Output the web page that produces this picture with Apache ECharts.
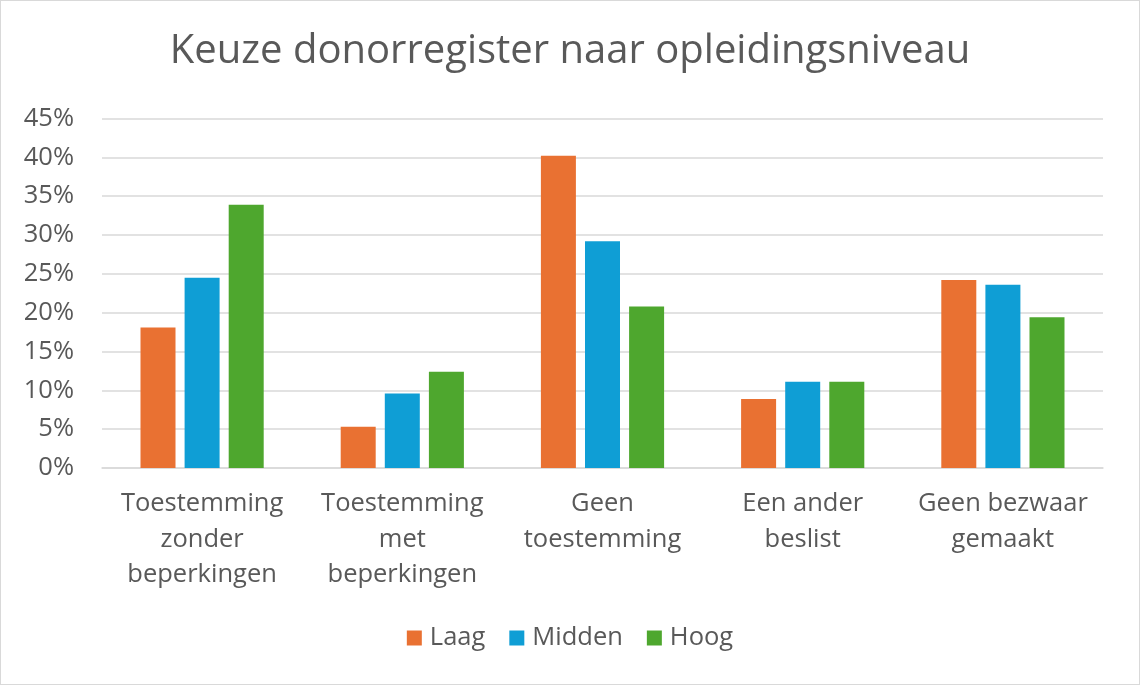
<!DOCTYPE html>
<html>
<head>
<meta charset="utf-8">
<script src="https://cdn.jsdelivr.net/npm/echarts@6/dist/echarts.min.js"></script>
<style>
html,body{margin:0;padding:0;background:#fff;}
#chart{width:1140px;height:685px;box-sizing:border-box;border:1px solid #d9d9d9;}
</style>
</head>
<body>
<div id="chart"></div>
<script>
const categories = ["Toestemming\nzonder\nbeperkingen", "Toestemming\nmet\nbeperkingen", "Geen\ntoestemming", "Een ander\nbeslist", "Geen bezwaar\ngemaakt"];
const seriesNames = ["Laag", "Midden", "Hoog"];
const laag = [18.1, 5.3, 40.2, 8.9, 24.2];
const midden = [24.5, 9.6, 29.2, 11.1, 23.6];
const hoog = [33.9, 12.4, 20.8, 11.1, 19.4];
const colors = ["#E97132", "#0F9ED5", "#4EA72E"];

const FONT = "Open Sans";
const TXT = "#595959";
const chart = echarts.init(document.getElementById('chart'), null, {renderer: 'canvas'});
const data = [laag, midden, hoog];
chart.setOption({
  animation: false,
  color: colors,
  title: {
    text: "Keuze donorregister naar opleidingsniveau",
    left: 'center', top: 26,
    textStyle: {fontFamily: FONT, fontSize: 40, fontWeight: 'normal', color: TXT}
  },
  legend: {
    bottom: 28, left: 'center',
    itemWidth: 15, itemHeight: 15, itemGap: 24,
    icon: 'rect',
    textStyle: {fontFamily: FONT, fontSize: 25.5, color: TXT, padding: [0,0,0,3]},
    data: seriesNames
  },
  grid: {left: 101, right: 36, top: 117.5, bottom: 216, containLabel: false},
  xAxis: {
    type: 'category', data: categories,
    axisLine: {lineStyle: {color: '#d9d9d9', width: 1.5}},
    axisTick: {show: false},
    axisLabel: {fontFamily: FONT, fontSize: 25.5, color: TXT, lineHeight: 35.5, margin: 18, interval: 0}
  },
  yAxis: {
    type: 'value', min: 0, max: 45, interval: 5,
    axisLine: {show: false}, axisTick: {show: false},
    splitLine: {lineStyle: {color: '#d9d9d9', width: 1.5}},
    axisLabel: {fontFamily: FONT, fontSize: 25.5, color: TXT, margin: 28, formatter: v => v + '%'}
  },
  series: seriesNames.map((n, i) => ({
    name: n, type: 'bar', data: data[i], barWidth: 35, barGap: '26%'
  }))
});
</script>
</body>
</html>
